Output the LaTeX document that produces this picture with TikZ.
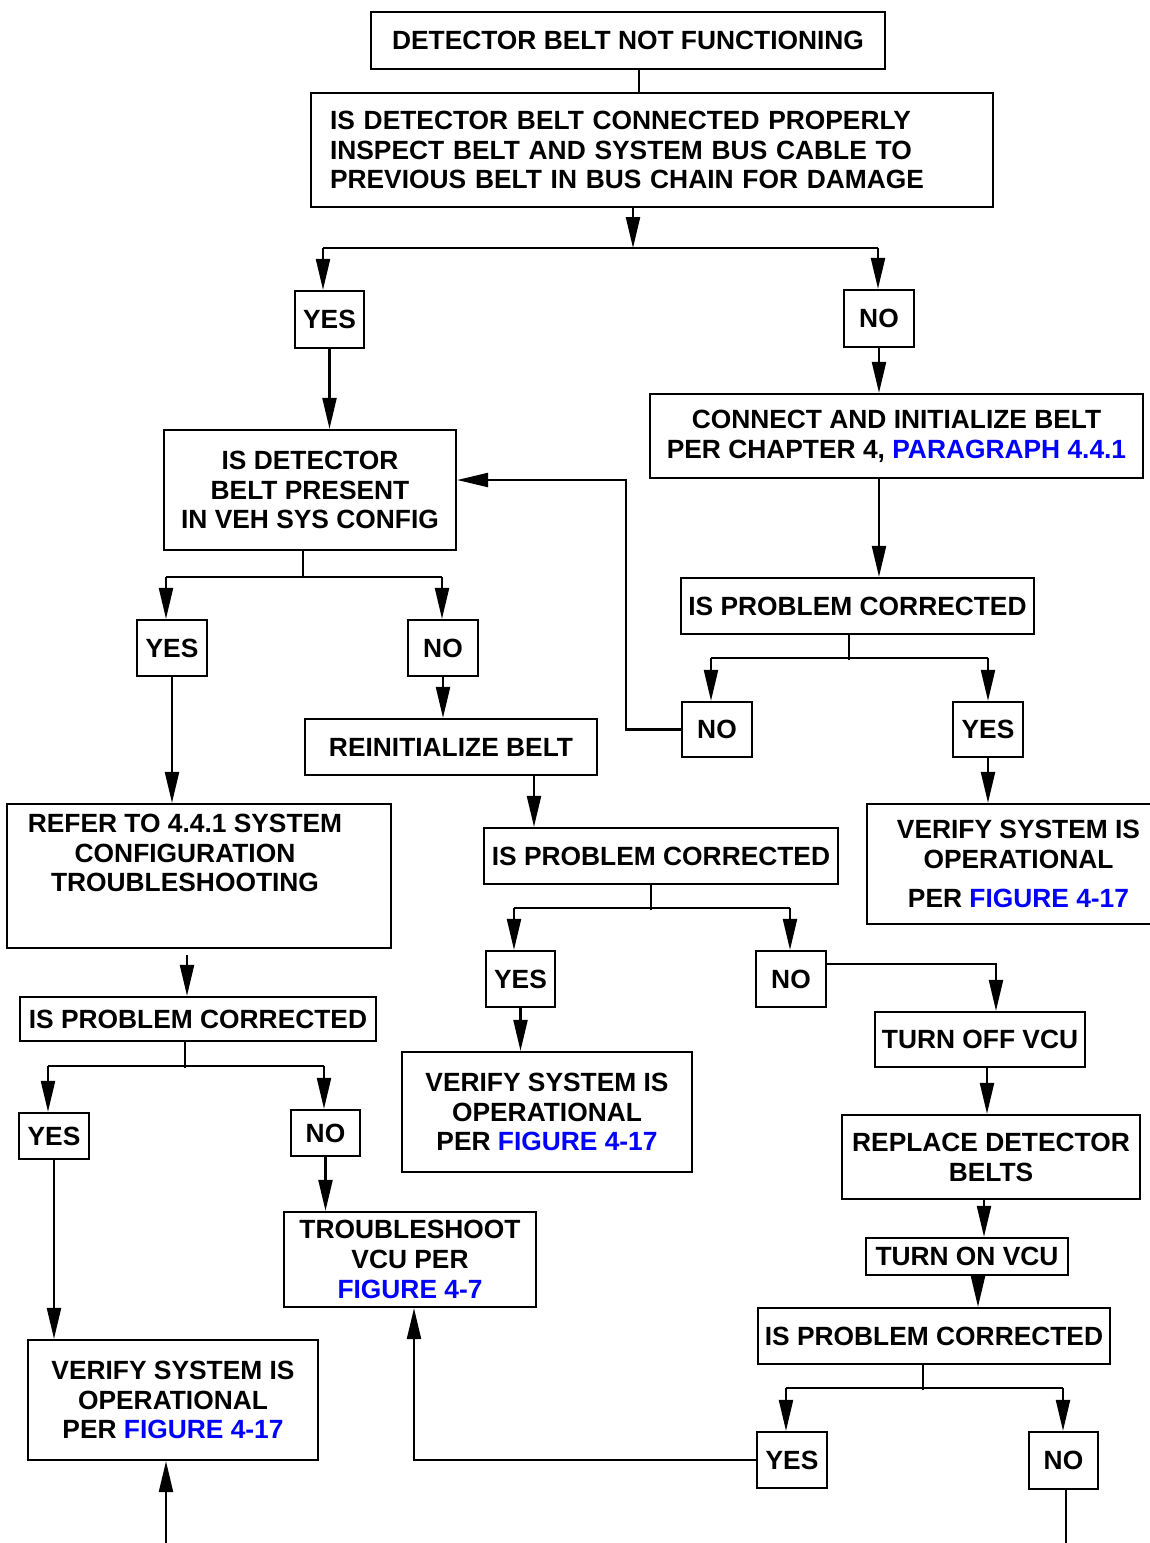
\documentclass[tikz,border=0pt]{standalone}
\usepackage{fontspec}
\setmainfont{Liberation Sans}
\usetikzlibrary{arrows.meta}
\tikzset{
  box/.style={draw, inner sep=0pt, align=center, font=\fontsize{15}{17}\selectfont\bfseries},
  ans/.style={box, minimum width=1.4cm, minimum height=1.12cm},
  arr/.style={-{Triangle[length=0.62cm,width=0.28cm]}},
}
\newcommand{\fig}[1]{\textcolor{blue}{#1}}
\begin{document}
\begin{tikzpicture}[x=0.02cm, y=-0.02cm, line width=1.3pt]
            \useasboundingbox (0,0) rectangle (1150,1543);
            \node[box, minimum width=10.28cm, minimum height=1.14cm] (title) at (628,40.5) {DETECTOR BELT NOT FUNCTIONING};
            \node[box, minimum width=13.64cm, minimum height=2.28cm, text width=12.88cm, inner xsep=0.38cm, align=left] (conn) at (652,150) {IS DETECTOR BELT CONNECTED PROPERLY\\INSPECT BELT AND SYSTEM BUS CABLE TO\\PREVIOUS BELT IN BUS CHAIN FOR DAMAGE};
            \node[ans, minimum width=1.38cm, minimum height=1.14cm] (yes1) at (329.5,319.5) {YES};
            \node[ans, minimum height=1.14cm] (no1) at (879,318.5) {NO};
            \node[box, minimum width=5.84cm, minimum height=2.4cm] (present) at (310,490) {IS DETECTOR\\BELT PRESENT\\IN VEH SYS CONFIG};
            \node[box, minimum width=9.86cm, minimum height=1.68cm] (connect) at (896.5,436) {CONNECT AND INITIALIZE BELT\\PER CHAPTER 4, \fig{PARAGRAPH 4.4.1}};
            \node[box, minimum width=7.06cm, minimum height=1.12cm] (ipcR) at (857.5,606) {IS PROBLEM CORRECTED};
            \node[ans, minimum height=1.1cm] (noR) at (717,729.5) {NO};
            \node[ans, minimum height=1.1cm] (yesR) at (988,729.5) {YES};
            \node[box, minimum width=6.06cm, minimum height=2.4cm] (verR) at (1018.5,864) {VERIFY SYSTEM IS\\OPERATIONAL\\[0.2cm]PER \fig{FIGURE 4-17}};
            \node[ans] (yes3) at (172,648) {YES};
            \node[ans] (no3) at (443,648) {NO};
            \node[box, minimum width=5.84cm, minimum height=1.12cm] (reinit) at (451,747) {REINITIALIZE BELT};
            \node[box, minimum width=7.08cm, minimum height=1.12cm] (ipcM) at (661,856) {IS PROBLEM CORRECTED};
            \node[ans, minimum width=1.38cm] (yes4) at (520.5,979) {YES};
            \node[ans] (no4) at (791,979) {NO};
            \node[box, minimum width=5.8cm, minimum height=2.4cm] (verM) at (547,1112) {VERIFY SYSTEM IS\\OPERATIONAL\\PER \fig{FIGURE 4-17}};
            \node[box, minimum width=4.2cm, minimum height=1.1cm] (turnoff) at (980,1039.5) {TURN OFF VCU};
            \node[box, minimum width=5.96cm, minimum height=1.68cm] (replace) at (991,1157) {REPLACE DETECTOR\\BELTS};
            \node[box, minimum width=4.04cm, minimum height=0.74cm] (turnon) at (967,1256.5) {TURN ON VCU};
            \node[box, minimum width=7.04cm, minimum height=1.12cm] (ipcB) at (934,1336) {IS PROBLEM CORRECTED};
            \node[ans] (yes5) at (792,1460) {YES};
            \node[ans, minimum width=1.38cm, minimum height=1.14cm] (no5) at (1063.5,1460.5) {NO};
            \node[box, minimum width=7.68cm, minimum height=2.88cm] (refer) at (199,876) {};
            \node[box, draw=none] (refertxt) at (185,853) {REFER TO 4.4.1 SYSTEM\\CONFIGURATION\\TROUBLESHOOTING};
            \node[box, minimum width=7.12cm, minimum height=0.88cm] (ipcL) at (198,1019) {IS PROBLEM CORRECTED};
            \node[ans, minimum height=0.92cm] (yes6) at (54,1136) {YES};
            \node[ans, minimum width=1.38cm, minimum height=0.92cm] (no6) at (325.5,1133) {NO};
            \node[box, minimum width=5.8cm, minimum height=2.4cm] (verL) at (173,1400) {VERIFY SYSTEM IS\\OPERATIONAL\\PER \fig{FIGURE 4-17}};
            \node[box, minimum width=5.04cm, minimum height=1.9cm] (trouble) at (410,1259.5) {TROUBLESHOOT\\VCU PER\\\fig{FIGURE 4-7}};
            % yes/no splits
            \coordinate (j1) at (633,248); \coordinate (ja1) at (323,248); \coordinate (jb1) at (878,248);
            \coordinate (j2) at (303,578); \coordinate (ja2) at (166,577); \coordinate (jb2) at (442,577);
            \coordinate (j3) at (849,660); \coordinate (ja3) at (711,658); \coordinate (jb3) at (988,658);
            \coordinate (j4) at (651,910); \coordinate (ja4) at (514,908); \coordinate (jb4) at (790,908);
            \coordinate (j5) at (923,1390); \coordinate (ja5) at (786,1388); \coordinate (jb5) at (1063,1388);
            \coordinate (j6) at (185,1068); \coordinate (ja6) at (48,1066); \coordinate (jb6) at (324,1066);
            \draw[arr] (conn.south -| j1) -- (j1);
            \draw (present.south -| j2) -- (j2);
            \draw (ipcR.south -| j3) -- (j3);
            \draw (ipcM.south -| j4) -- (j4);
            \draw (ipcB.south -| j5) -- (j5);
            \draw (ipcL.south -| j6) -- (j6);
            \foreach \j/\a/\b in {1/yes1/no1, 2/yes3/no3, 3/noR/yesR, 4/yes4/no4, 5/yes5/no5, 6/yes6/no6} {
                \draw (ja\j) -- (jb\j);
                \draw[arr] (ja\j) -- (ja\j |- \a.north);
                \draw[arr] (jb\j) -- (jb\j |- \b.north);
            }
            % straight runs
            \coordinate (c0) at (639,0);
            \coordinate (c1) at (534,0);
            \coordinate (c2) at (996,964);
            \coordinate (c3) at (987,0);
            \coordinate (c4) at (984,0);
            \coordinate (c5) at (978,0);
            \coordinate (c7) at (414,0);
            \coordinate (c8) at (187,955);
            \coordinate (lp) at (626,480);
            \coordinate (endR) at (1066,1543);
            \coordinate (endL) at (166,1543);
            \draw (title.south -| c0) -- (conn.north -| c0);
            \draw[arr] (yes1.south) -- (yes1.south |- present.north);
            \draw[arr] (no1.south) -- (no1.south |- connect.north);
            \draw[arr] (connect.south -| no1) -- (ipcR.north -| no1);
            \draw[arr] (yesR.south) -- (yesR.south |- verR.north);
            \draw[arr] (noR.west) -| (lp) -- (lp -| present.east);
            \draw[arr] (no3.south) -- (no3.south |- reinit.north);
            \draw[arr] (reinit.south -| c1) -- (ipcM.north -| c1);
            \draw[arr] (yes4.south) -- (yes4.south |- verM.north);
            \draw[arr] (no4.east |- c2) -| (turnoff.north -| c2);
            \draw[arr] (turnoff.south -| c3) -- (replace.north -| c3);
            \draw[arr] (replace.south -| c4) -- (turnon.north -| c4);
            \draw[arr] (turnon.south -| c5) -- (ipcB.north -| c5);
            \draw[arr] (yes5.west) -| (trouble.south -| c7);
            \draw (no5.south -| endR) -- (endR);
            \draw[arr] (yes3.south) -- (yes3.south |- refer.north);
            \draw[arr] (c8) -- (c8 |- ipcL.north);
            \draw[arr] (yes6.south) -- (yes6.south |- verL.north);
            \draw[arr] (no6.south) -- (no6.south |- trouble.north);
            \draw[arr] (endL) -- (endL |- verL.south);
\end{tikzpicture}
\end{document}
